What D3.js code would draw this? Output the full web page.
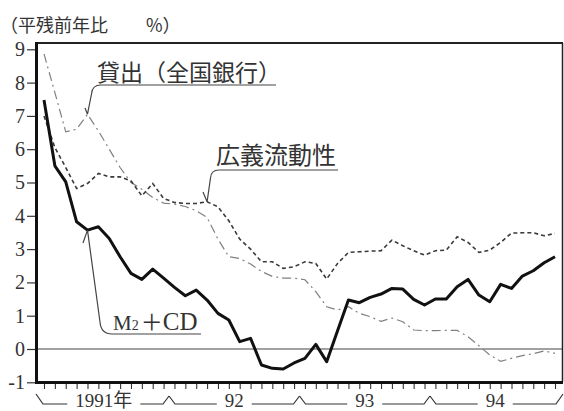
<!DOCTYPE html>
<html><head><meta charset="utf-8">
<script src="https://cdn.jsdelivr.net/npm/d3@7"></script>
<style>body{margin:0;background:#fff}</style>
</head><body><svg id="c" width="564" height="411"></svg>
<script>
// ---- data ----
const years = ["1991年", "92", "93", "94"];
const monthNums = [1,2,3,4,5,6,7,8,9,10,11,12];
const months = years.flatMap((y, yi) => monthNums.map(m => (1991 + yi) + "-" + m));
const yTicks = [-1, 0, 1, 2, 3, 4, 5, 6, 7, 8, 9];
const yTitle = ["（平残前年比", "%）"];
const seriesNames = ["M2＋CD", "広義流動性", "貸出（全国銀行）"];

const m2cd = [7.48,5.5,5.02,3.82,3.57,3.67,3.32,2.77,2.27,2.09,2.4,2.13,
              1.85,1.6,1.77,1.47,1.07,0.87,0.22,0.32,-0.48,-0.58,-0.6,-0.42,
              -0.28,0.14,-0.38,0.55,1.47,1.39,1.55,1.65,1.82,1.8,1.49,1.32,
              1.5,1.5,1.87,2.09,1.62,1.42,1.94,1.82,2.19,2.35,2.59,2.77];
const kogi = [7.0,6.05,5.45,4.82,4.97,5.27,5.17,5.17,5.05,4.6,4.97,4.52,
              4.4,4.37,4.37,4.42,4.27,3.85,3.3,3.0,2.62,2.62,2.42,2.47,
              2.62,2.57,2.1,2.57,2.9,2.92,2.94,2.95,3.27,3.1,2.95,2.82,
              2.95,2.97,3.37,3.2,2.9,2.97,3.2,3.48,3.49,3.49,3.4,3.47];
const kashidashi = [8.86,7.7,6.52,6.6,7.05,6.55,6.0,5.45,5.0,4.8,4.55,4.38,
              4.35,4.28,4.15,3.95,3.3,2.77,2.72,2.55,2.33,2.18,2.13,2.13,
              2.08,1.72,1.27,1.17,1.27,1.07,0.97,0.83,0.93,0.82,0.57,0.55,
              0.55,0.56,0.56,0.37,0.1,-0.18,-0.37,-0.28,-0.2,-0.14,-0.06,-0.13];

// ---- layout ----
const svg = d3.select("#c");
const L = 36, R = 563, T = 43, B = 382;
const serif = "Liberation Serif, Noto Sans CJK JP, serif";
const cjk = "Noto Sans CJK JP, sans-serif";
const ink = "#333";

const x = d3.scalePoint().domain(months).range([44, 555]);
const y = d3.scaleLinear().domain([-1, 9]).range([382.3, 49.3]);

// zero line
svg.append("line").attr("x1", L).attr("x2", R).attr("y1", y(0)).attr("y2", y(0))
  .attr("stroke", "#444").attr("stroke-width", 1.1);

// series
const line = d3.line().x((d, i) => x(months[i])).y(d => y(d));
svg.append("path").datum(kashidashi).attr("d", line).attr("fill", "none")
  .attr("stroke", "#808080").attr("stroke-width", 1.2).attr("stroke-dasharray", "9,4,2,4");
svg.append("path").datum(kogi).attr("d", line).attr("fill", "none")
  .attr("stroke", "#3a3a3a").attr("stroke-width", 1.6).attr("stroke-dasharray", "4,3");
svg.append("path").datum(m2cd).attr("d", line).attr("fill", "none")
  .attr("stroke", "#111").attr("stroke-width", 3).attr("stroke-linejoin", "round");

// y axis
const ya = svg.append("g").attr("transform", `translate(${L},0)`)
  .call(d3.axisLeft(y).tickValues(yTicks).tickSize(9).tickPadding(2).tickFormat(d => String(d)));
ya.select(".domain").remove();
ya.selectAll("line").attr("stroke", ink).attr("stroke-width", 1.2);
ya.selectAll("text").attr("font-family", serif).attr("font-size", 20).attr("fill", ink);

// x axis ticks
const xa = svg.append("g").attr("transform", `translate(0,${B})`)
  .call(d3.axisBottom(x).tickSize(7).tickFormat(""));
xa.select(".domain").remove();
xa.selectAll("line").attr("stroke", ink).attr("stroke-width", 1.1);

// frame
svg.append("line").attr("x1", L).attr("x2", R).attr("y1", T).attr("y2", T).attr("stroke", "#222").attr("stroke-width", 2);
svg.append("line").attr("x1", R - 0.5).attr("x2", R - 0.5).attr("y1", T).attr("y2", B).attr("stroke", "#222").attr("stroke-width", 1.5);
svg.append("line").attr("x1", L).attr("x2", R).attr("y1", B + 0.5).attr("y2", B + 0.5).attr("stroke", "#111").attr("stroke-width", 3);
svg.append("line").attr("x1", L + 0.5).attr("x2", L + 0.5).attr("y1", T - 1).attr("y2", B + 2).attr("stroke", "#111").attr("stroke-width", 3);

// y title
const tt = svg.append("text").attr("x", 0).attr("y", 24).attr("dominant-baseline", "central")
  .attr("font-family", cjk).attr("font-size", 18).attr("fill", ink);
tt.append("tspan").text(yTitle[0]);
tt.append("tspan").attr("x", 146).text(yTitle[1]);

// year brackets
const by = 404;
const bounds = [L];
for (let j = 1; j < years.length; j++) bounds.push((x(months[j*12-1]) + x(months[j*12])) / 2);
bounds.push(R);
years.forEach((yr, j) => {
  const cx = (x(months[j*12]) + x(months[j*12+11])) / 2;
  const t = svg.append("text").attr("x", cx).attr("y", 407).attr("text-anchor", "middle")
    .attr("font-family", serif).attr("font-size", 19).attr("fill", ink).text(yr);
  const w = t.node().getComputedTextLength();
  const a = bounds[j], b = bounds[j+1];
  let p = j === 0 ? `M${a},394L${a+7},${by}` : `M${a},396L${a+6},${by}`;
  p += `L${cx - w/2 - 8},${by}M${cx + w/2 + 8},${by}`;
  p += j === years.length - 1 ? `L${b-7},${by}L${b},394` : `L${b-6},${by}L${b},396`;
  svg.append("path").attr("d", p).attr("fill", "none").attr("stroke", ink).attr("stroke-width", 1.2);
});

// annotations
function pointer(d) {
  svg.append("path").attr("d", d).attr("fill", "none").attr("stroke", "#444").attr("stroke-width", 1.2);
}
// 貸出
svg.append("text").attr("x", 97).attr("y", 71).attr("dominant-baseline", "central")
  .attr("font-family", cjk).attr("font-size", 23).attr("fill", ink).text(seriesNames[2]);
pointer(`M276,85L101,85Q92,85 91.5,94L${x(months[4])},${y(kashidashi[4])}M85,108L${x(months[4])},${y(kashidashi[4])}`);
// 広義流動性
svg.append("text").attr("x", 216).attr("y", 153).attr("dominant-baseline", "central")
  .attr("font-family", cjk).attr("font-size", 24).attr("fill", ink).text(seriesNames[1]);
pointer(`M338,170L219,170Q211,170 210.5,178L${x(months[15])},${y(kogi[15])}M203,192L${x(months[15])},${y(kogi[15])}`);
// M2+CD
const mt = svg.append("text").attr("x", 113).attr("y", 330).attr("font-family", serif)
  .attr("font-size", 21).attr("fill", ink);
mt.append("tspan").text("M");
mt.append("tspan").attr("font-size", 14).text("2");
mt.append("tspan").attr("font-family", cjk).attr("font-size", 22).attr("dx", 2).text("＋");
mt.append("tspan").attr("font-size", 25).text("CD");
pointer(`M201,334L112,334Q101,334 100,322L${x(months[4])},${y(m2cd[4])}M83,243L${x(months[4])},${y(m2cd[4])}`);
</script></body></html>
